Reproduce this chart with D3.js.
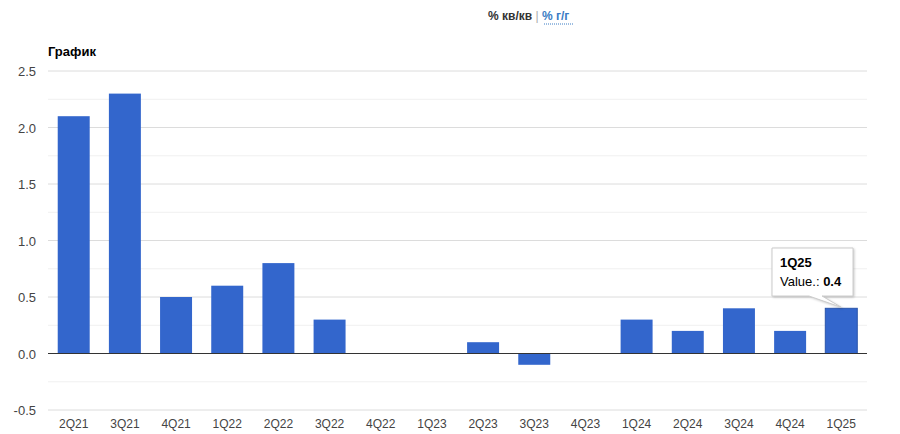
<!DOCTYPE html>
<html><head><meta charset="utf-8">
<script src="https://cdn.jsdelivr.net/npm/d3@7"></script>
<style>body{margin:0;background:#fff;font-family:Arial,"Liberation Sans",sans-serif}</style>
</head><body>
<svg id="c" width="900" height="434"></svg>
<script>
const categories = ["2Q21","3Q21","4Q21","1Q22","2Q22","3Q22","4Q22","1Q23","2Q23","3Q23","4Q23","1Q24","2Q24","3Q24","4Q24","1Q25"];
const values = [2.1,2.3,0.5,0.6,0.8,0.3,0,0,0.1,-0.1,0,0.3,0.2,0.4,0.2,0.4];
const yTicks = [-0.5,0,0.5,1,1.5,2,2.5];
const yMinor = [-0.25,0.25,0.75,1.25,1.75,2.25];

const svg = d3.select("#c");
const L=48,R=867,T=71,B=410;
const x = d3.scaleBand().domain(categories).range([L,R]).paddingInner(0.375).paddingOuter(0.19);
const y = d3.scaleLinear().domain([-0.5,2.5]).range([B,T]);

svg.append("g").selectAll("line").data(yMinor).join("line")
  .attr("x1",L).attr("x2",R).attr("y1",d=>y(d)).attr("y2",d=>y(d))
  .attr("stroke","#f0f0f0").attr("stroke-width",1);
svg.append("g").selectAll("line").data(yTicks.filter(d=>d!==0)).join("line")
  .attr("x1",L).attr("x2",R).attr("y1",d=>y(d)).attr("y2",d=>y(d))
  .attr("stroke","#dcdcdc").attr("stroke-width",1);

svg.append("g").selectAll("rect").data(values).join("rect")
  .attr("x",(d,i)=>x(categories[i]))
  .attr("width",x.bandwidth())
  .attr("y",d=>y(Math.max(0,d)))
  .attr("height",d=>Math.abs(y(d)-y(0)))
  .attr("fill","#3366cc")
  .attr("stroke",(d,i)=>i===values.length-1?"#2a55aa":"none");

svg.append("line").attr("x1",L).attr("x2",R).attr("y1",y(0)).attr("y2",y(0))
  .attr("stroke","#333").attr("stroke-width",1);

svg.append("g").selectAll("text").data(yTicks).join("text")
  .attr("x",36).attr("y",d=>y(d)+5).attr("text-anchor","end")
  .attr("font-size",13).attr("fill","#444").text(d=>d3.format(".1f")(d).replace("\u2212","-"));

svg.append("g").selectAll("text").data(categories).join("text")
  .attr("x",d=>x(d)+x.bandwidth()/2).attr("y",428).attr("text-anchor","middle")
  .attr("font-size",12).attr("fill","#444").text(d=>d);

svg.append("text").attr("x",48).attr("y",56).attr("font-size",13).attr("font-weight","bold")
  .attr("fill","#000").text("График");

const hdr = svg.append("text").attr("x",488).attr("y",20).attr("font-size",12).attr("font-weight","bold");
hdr.append("tspan").attr("fill","#333").text("% кв/кв ");
hdr.append("tspan").attr("fill","#aaa").attr("font-weight","normal").text("| ");
hdr.append("tspan").attr("fill","#3a7cc4").text("% г/г");
svg.append("line").attr("x1",544).attr("x2",574).attr("y1",24).attr("y2",24)
  .attr("stroke","#3a7cc4").attr("stroke-dasharray","1,1");

// tooltip
const li = values.length-1;
const bx = x(categories[li])+x.bandwidth()/2, by = y(values[li]);
const tx=772, ty=248, tw=81, th=48;
const tip = svg.append("g");
tip.append("path")
  .attr("d",`M${tx},${ty} H${tx+tw} V${ty+th} H${tx+tw-31} L${bx},${by-1} L${tx+tw-44},${ty+th} H${tx} Z`)
  .attr("fill","#fff").attr("stroke","#ccc").attr("stroke-width",1)
  .style("filter","drop-shadow(1px 1px 1px rgba(0,0,0,0.2))");
tip.append("text").attr("x",tx+8).attr("y",ty+19).attr("font-size",13).attr("font-weight","bold").attr("fill","#000").text(categories[li]);
const vt = tip.append("text").attr("x",tx+8).attr("y",ty+38).attr("font-size",13).attr("fill","#000");
vt.append("tspan").text("Value.: ");
vt.append("tspan").attr("font-weight","bold").text(values[li]);
</script>
</body></html>
